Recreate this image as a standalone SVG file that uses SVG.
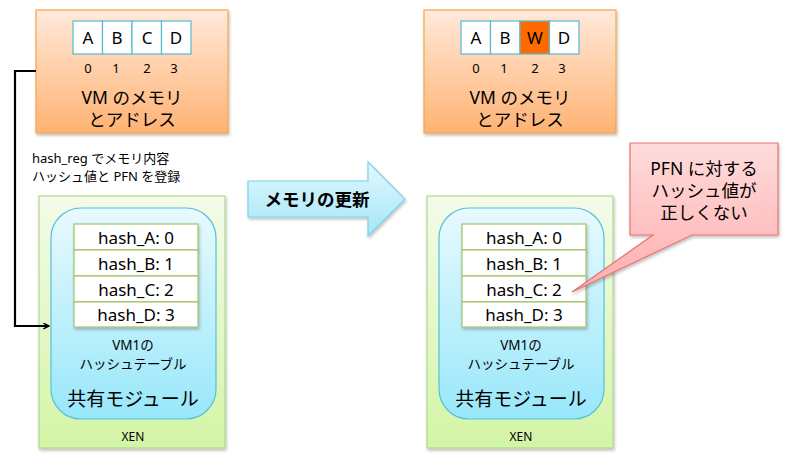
<svg xmlns="http://www.w3.org/2000/svg" width="790" height="472" viewBox="0 0 790 472">
<defs>
<linearGradient id="gOr" x1="0" y1="0" x2="0" y2="1"><stop offset="0" stop-color="#ffeadb"/><stop offset="1" stop-color="#ffb273"/></linearGradient>
<linearGradient id="gGr" x1="0" y1="0" x2="0" y2="1"><stop offset="0" stop-color="#f4fbea"/><stop offset="1" stop-color="#d3f5a6"/></linearGradient>
<linearGradient id="gBl" x1="0" y1="0" x2="0" y2="1"><stop offset="0" stop-color="#e8faff"/><stop offset="1" stop-color="#98e7fa"/></linearGradient>
<linearGradient id="gAr" x1="0" y1="0" x2="0" y2="1"><stop offset="0" stop-color="#e3f8fe"/><stop offset="1" stop-color="#a3e6f8"/></linearGradient>
<linearGradient id="gPk" x1="0" y1="0" x2="0" y2="1"><stop offset="0" stop-color="#ffdcdc"/><stop offset="1" stop-color="#ffadad"/></linearGradient>
<filter id="sh" x="-10%" y="-10%" width="130%" height="130%"><feDropShadow dx="1" dy="2" stdDeviation="1.5" flood-color="#000" flood-opacity="0.25"/></filter>
<marker id="ah" viewBox="0 0 10 10" refX="9" refY="5" markerWidth="7" markerHeight="7" orient="auto" markerUnits="userSpaceOnUse"><path d="M1,1 L9,5 L1,9" fill="none" stroke="#000" stroke-width="2"/></marker>
</defs>
<style>
text{font-family:"Noto Sans","Noto Sans CJK JP",sans-serif;fill:#000;text-anchor:middle}
.mem{fill:url(#gOr);stroke:#f7a352;stroke-width:1.2;filter:url(#sh)}
.xen{fill:url(#gGr);stroke:#b2d88a;stroke-width:1.2;filter:url(#sh)}
.mod{fill:url(#gBl);stroke:#55c0da;stroke-width:1.2}
.cell{fill:#fff;stroke:#58b9cf;stroke-width:1.2}
.cellw{fill:#ff6a00;stroke:#58b9cf;stroke-width:1.2}
.row{fill:#fff;stroke:#a2c46a;stroke-width:1.2;filter:url(#sh)}
.cl{font-size:17px}
.idx{font-size:13px}
.ttl{font-size:17.5px}
.hr{font-size:17px}
.tb{font-size:13.5px}
.mdl{font-size:19px}
.xn{font-size:12px}
</style>

<g id="mem-left">
<rect class="mem" x="36" y="10" width="192" height="123"/>
<rect class="cell" x="73" y="21" width="29.5" height="33"/>
<rect class="cell" x="102.5" y="21" width="29.5" height="33"/>
<rect class="cell" x="132" y="21" width="29.5" height="33"/>
<rect class="cell" x="161.5" y="21" width="29.5" height="33"/>
<text class="cl" x="88" y="44">A</text>
<text class="cl" x="117" y="44">B</text>
<text class="cl" x="147" y="44">C</text>
<text class="cl" x="176" y="44">D</text>
<text class="idx" x="88" y="73">0</text>
<text class="idx" x="116" y="73">1</text>
<text class="idx" x="147" y="73">2</text>
<text class="idx" x="174" y="73">3</text>
<text class="ttl" x="132" y="104">VM のメモリ</text>
<text class="ttl" x="132" y="126">とアドレス</text>
</g>

<g id="label-hashreg">
<text style="font-size:13px;text-anchor:start" x="32" y="163">hash_reg でメモリ内容</text>
<text style="font-size:13px;text-anchor:start" x="32" y="181">ハッシュ値と PFN を登録</text>
</g>

<g id="xen-left">
<rect class="xen" x="39" y="196" width="186" height="252"/>
<rect class="mod" x="51" y="208" width="165" height="211" rx="30"/>
<rect class="row" x="74" y="224" width="124" height="26"/>
<rect class="row" x="74" y="250" width="124" height="26"/>
<rect class="row" x="74" y="276" width="124" height="26"/>
<rect class="row" x="74" y="302" width="124" height="25"/>
<text class="hr" x="136" y="244">hash_A: 0</text>
<text class="hr" x="136" y="270">hash_B: 1</text>
<text class="hr" x="136" y="296">hash_C: 2</text>
<text class="hr" x="136" y="321">hash_D: 3</text>
<text class="tb" x="133" y="350">VM1の</text>
<text class="tb" x="133" y="369">ハッシュテーブル</text>
<text class="mdl" x="133" y="406">共有モジュール</text>
<text class="xn" x="133" y="441">XEN</text>
</g>

<g id="update-arrow">
<path d="M248,181 L368,181 L368,162 L405,199 L368,236 L368,217 L248,217 Z" fill="url(#gAr)" stroke="#7fd0e8" stroke-width="1.2" filter="url(#sh)"/>
<text x="317" y="206" style="font-size:17.5px;font-weight:bold">メモリの更新</text>
</g>

<g id="mem-right">
<rect class="mem" x="424" y="10" width="192" height="123"/>
<rect class="cell" x="461" y="21" width="29.5" height="33"/>
<rect class="cell" x="490.5" y="21" width="29.5" height="33"/>
<rect class="cellw" x="520" y="21" width="29.5" height="33"/>
<rect class="cell" x="549.5" y="21" width="29.5" height="33"/>
<text class="cl" x="476" y="44">A</text>
<text class="cl" x="505" y="44">B</text>
<text class="cl" x="535" y="44">W</text>
<text class="cl" x="564" y="44">D</text>
<text class="idx" x="476" y="73">0</text>
<text class="idx" x="504" y="73">1</text>
<text class="idx" x="535" y="73">2</text>
<text class="idx" x="562" y="73">3</text>
<text class="ttl" x="520" y="104">VM のメモリ</text>
<text class="ttl" x="520" y="126">とアドレス</text>
</g>

<g id="xen-right">
<rect class="xen" x="427" y="196" width="186" height="252"/>
<rect class="mod" x="439" y="208" width="165" height="211" rx="30"/>
<rect class="row" x="462" y="224" width="124" height="26"/>
<rect class="row" x="462" y="250" width="124" height="26"/>
<rect class="row" x="462" y="276" width="124" height="26"/>
<rect class="row" x="462" y="302" width="124" height="25"/>
<text class="hr" x="524" y="244">hash_A: 0</text>
<text class="hr" x="524" y="270">hash_B: 1</text>
<text class="hr" x="524" y="296">hash_C: 2</text>
<text class="hr" x="524" y="321">hash_D: 3</text>
<text class="tb" x="521" y="350">VM1の</text>
<text class="tb" x="521" y="369">ハッシュテーブル</text>
<text class="mdl" x="521" y="406">共有モジュール</text>
<text class="xn" x="521" y="441">XEN</text>
</g>

<g id="callout">
<path d="M630,143 L778,143 L778,235 L692,235 L572,292 L653,235 L630,235 Z" fill="url(#gPk)" stroke="#e57373" stroke-width="1.2" filter="url(#sh)"/>
<text style="font-size:17.5px" x="704" y="175">PFN に対する</text>
<text style="font-size:17.5px" x="704" y="197">ハッシュ値が</text>
<text style="font-size:17.5px" x="704" y="219">正しくない</text>
</g>

<g id="connectors">
<polyline points="36,71 15,71 15,326 49,326" fill="none" stroke="#000" stroke-width="2.2" marker-end="url(#ah)"/>
</g>
</svg>
